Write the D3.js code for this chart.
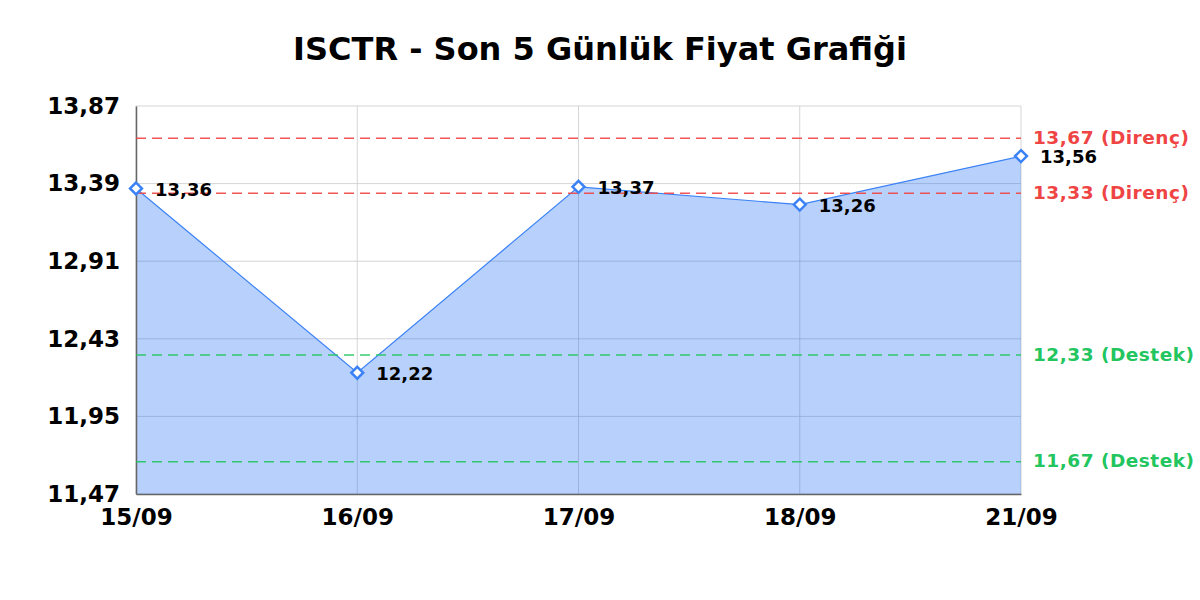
<!DOCTYPE html>
<html>
<head>
<meta charset="utf-8">
<script src="https://cdn.jsdelivr.net/npm/d3@7"></script>
<style>
  body { margin: 0; background: #fff; }
  svg, svg text { font-family: "DejaVu Sans", sans-serif; }
</style>
</head>
<body>
<svg id="chart" width="1200" height="600"></svg>
<script>
// chart data
var dates = ['15/09', '16/09', '17/09', '18/09', '21/09'];
var prices = [13.36, 12.22, 13.37, 13.26, 13.56];
var yTicks = [11.47, 11.95, 12.43, 12.91, 13.39, 13.87];
var resistance = [13.67, 13.33];
var support = [12.33, 11.67];

var fmt = function (v) { return v.toFixed(2).replace('.', ','); };

var margin = { top: 106, right: 179, bottom: 106, left: 136 };
var width = 1200, height = 600;

var svg = d3.select('#chart');

var x = d3.scalePoint()
    .domain(dates)
    .range([margin.left, width - margin.right]);

var y = d3.scaleLinear()
    .domain([11.47, 13.87])
    .range([height - margin.bottom, margin.top]);

// title
svg.append('text')
    .attr('x', 600)
    .attr('y', 60)
    .attr('text-anchor', 'middle')
    .style('font-size', '32px')
    .style('font-weight', 'bold')
    .text('ISCTR - Son 5 Günlük Fiyat Grafiği');

// grid
var grid = svg.append('g').attr('class', 'grid');
grid.selectAll('.hgrid').data(yTicks).enter()
    .append('line')
    .attr('x1', margin.left).attr('x2', width - margin.right)
    .attr('y1', function (d) { return y(d); })
    .attr('y2', function (d) { return y(d); })
    .attr('stroke', '#e3e3e3').attr('stroke-width', 1);
grid.selectAll('.vgrid').data(dates).enter()
    .append('line')
    .attr('x1', function (d) { return x(d); })
    .attr('x2', function (d) { return x(d); })
    .attr('y1', margin.top).attr('y2', height - margin.bottom)
    .attr('stroke', '#e3e3e3').attr('stroke-width', 1);

// area + line
var pts = dates.map(function (d, i) { return { date: d, value: prices[i] }; });

var area = d3.area()
    .x(function (d) { return x(d.date); })
    .y0(height - margin.bottom)
    .y1(function (d) { return y(d.value); });

var line = d3.line()
    .x(function (d) { return x(d.date); })
    .y(function (d) { return y(d.value); });

svg.append('path')
    .datum(pts)
    .attr('d', area)
    .attr('fill', 'rgba(59,130,246,0.37)');

// grid shows faintly through the fill
svg.append('g').selectAll('line').data(yTicks).enter()
    .append('line')
    .attr('x1', margin.left).attr('x2', width - margin.right)
    .attr('y1', function (d) { return y(d); })
    .attr('y2', function (d) { return y(d); })
    .attr('stroke', 'rgba(0,0,0,0.06)');
svg.append('g').selectAll('line').data(dates).enter()
    .append('line')
    .attr('x1', function (d) { return x(d); })
    .attr('x2', function (d) { return x(d); })
    .attr('y1', margin.top).attr('y2', height - margin.bottom)
    .attr('stroke', 'rgba(0,0,0,0.06)');

svg.append('path')
    .datum(pts)
    .attr('d', line)
    .attr('fill', 'none')
    .attr('stroke', '#3b82f6')
    .attr('stroke-width', 1.2);

// axes
var yAxis = svg.append('g')
    .attr('transform', 'translate(' + margin.left + ',0)')
    .call(d3.axisLeft(y).tickValues(yTicks).tickFormat(fmt).tickSize(0).tickPadding(16))
    .attr('font-family', null)
    .attr('font-size', null);
yAxis.select('.domain').attr('stroke', '#666').attr('stroke-width', 1.5);
yAxis.selectAll('text')
    .style('font-size', '23px')
    .style('font-weight', 'bold')
    .attr('fill', '#000');

var xAxis = svg.append('g')
    .attr('transform', 'translate(0,' + (height - margin.bottom) + ')')
    .call(d3.axisBottom(x).tickSize(0).tickPadding(15))
    .attr('font-family', null)
    .attr('font-size', null);
xAxis.select('.domain').attr('stroke', '#666').attr('stroke-width', 1.5);
xAxis.selectAll('text')
    .style('font-size', '23px')
    .style('font-weight', 'bold')
    .attr('fill', '#000');

// reference lines
var refs = resistance.map(function (v) { return { value: v, label: 'Direnç', color: '#ef4444' }; })
    .concat(support.map(function (v) { return { value: v, label: 'Destek', color: '#22c55e' }; }));

var refG = svg.append('g').selectAll('g').data(refs).enter().append('g');
refG.append('line')
    .attr('x1', margin.left).attr('x2', width - margin.right)
    .attr('y1', function (d) { return y(d.value); })
    .attr('y2', function (d) { return y(d.value); })
    .attr('stroke', function (d) { return d.color; })
    .attr('stroke-opacity', 0.9)
    .attr('stroke-width', 1.5)
    .attr('stroke-dasharray', '10,6');
refG.append('text')
    .attr('x', width - margin.right + 12)
    .attr('y', function (d) { return y(d.value); })
    .attr('dy', '0.3em')
    .style('font-size', '18.5px')
    .style('letter-spacing', '0.5px')
    .style('font-weight', 'bold')
    .attr('fill', function (d) { return d.color; })
    .text(function (d) { return fmt(d.value) + ' (' + d.label + ')'; });

// markers
svg.append('g').selectAll('path').data(pts).enter()
    .append('path')
    .attr('d', d3.symbol().type(d3.symbolDiamond2).size(90))
    .attr('transform', function (d) { return 'translate(' + x(d.date) + ',' + y(d.value) + ')'; })
    .attr('fill', '#fff')
    .attr('stroke', '#3b82f6')
    .attr('stroke-width', 2.5);

// data labels
svg.append('g').selectAll('text').data(pts).enter()
    .append('text')
    .attr('x', function (d) { return x(d.date) + 19; })
    .attr('y', function (d) { return y(d.value) + 1; })
    .attr('dy', '0.35em')
    .style('font-size', '18px')
    .style('font-weight', 'bold')
    .attr('fill', '#000')
    .text(function (d) { return fmt(d.value); });
</script>
</body>
</html>
